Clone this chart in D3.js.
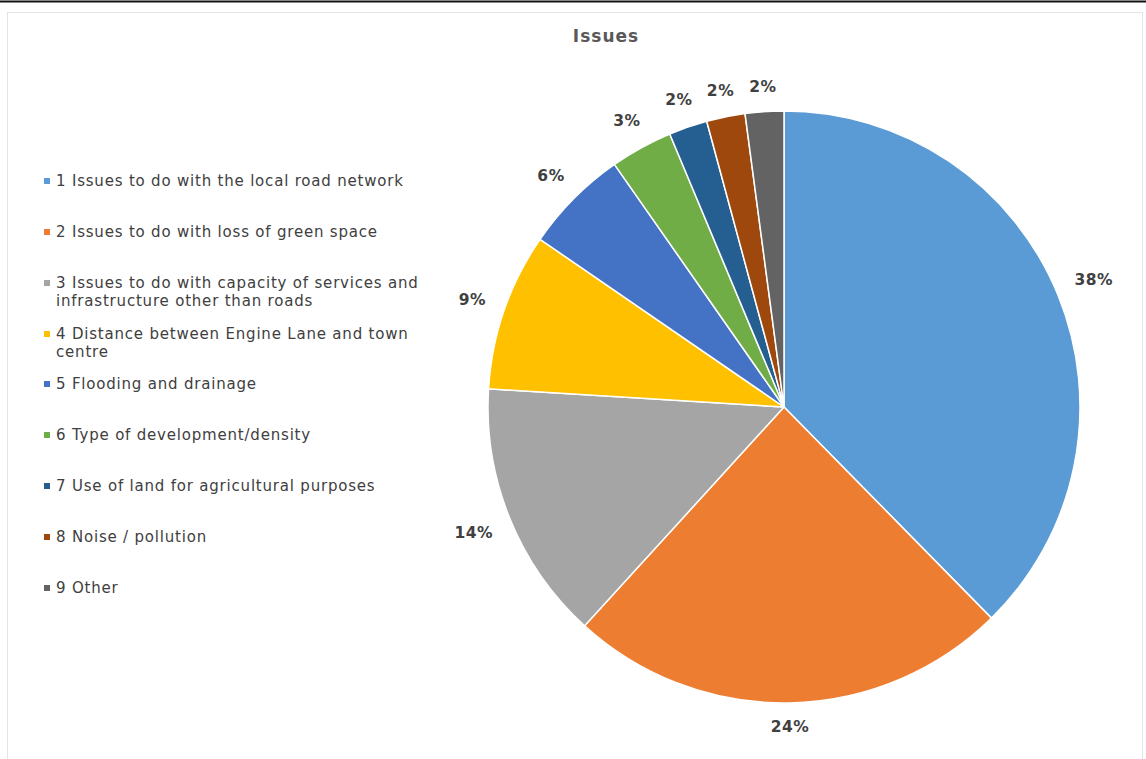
<!DOCTYPE html>
<html>
<head>
<meta charset="utf-8">
<script src="https://cdn.jsdelivr.net/npm/d3@7"></script>
<style>
  html, body { margin: 0; padding: 0; background: #fff; }
  svg { display: block; }
</style>
</head>
<body>
<svg id="chart" width="1146" height="759"></svg>
<script>
const categories = [
  "1 Issues to do with the local road network",
  "2 Issues to do with loss of green space",
  "3 Issues to do with capacity of services and infrastructure other than roads",
  "4 Distance between Engine Lane and town centre",
  "5 Flooding and drainage",
  "6 Type of development/density",
  "7 Use of land for agricultural purposes",
  "8 Noise / pollution",
  "9 Other"
];
const legendLines = [
  ["1 Issues to do with the local road network"],
  ["2 Issues to do with loss of green space"],
  ["3 Issues to do with capacity of services and", "infrastructure other than roads"],
  ["4 Distance between Engine Lane and town", "centre"],
  ["5 Flooding and drainage"],
  ["6 Type of development/density"],
  ["7 Use of land for agricultural purposes"],
  ["8 Noise / pollution"],
  ["9 Other"]
];
const values = [37.6, 24.1, 14.2, 8.6, 5.7, 3.4, 2.1, 2.1, 2.1];
const colors = ["#5B9BD5", "#ED7D31", "#A5A5A5", "#FFC000", "#4472C4", "#70AD47", "#255E91", "#9E480E", "#636363"];
const title = "Issues";

const svg = d3.select("#chart");
const W = 1146, H = 759;

// top dark rule and light frame
svg.append("line").attr("x1", 0).attr("x2", W).attr("y1", 1.5).attr("y2", 1.5)
  .attr("stroke", "#111").attr("stroke-width", 2);
svg.append("rect").attr("x", 7.5).attr("y", 12.5).attr("width", 1135).attr("height", 760)
  .attr("fill", "#fff").attr("stroke", "#e4e4e4").attr("stroke-width", 1);

svg.append("text").attr("x", 606).attr("y", 42).attr("text-anchor", "middle")
  .attr("font-family", "DejaVu Sans").attr("font-weight", "bold").attr("font-size", 17)
  .attr("letter-spacing", 1)
  .attr("fill", "#595959").text(title);

const cx = 784, cy = 407, r = 296;
const total = d3.sum(values);
const pie = d3.pie().sort(null).value(d => d)(values);
const arc = d3.arc().innerRadius(0).outerRadius(r);
const color = d3.scaleOrdinal().domain(categories).range(colors);

const g = svg.append("g").attr("transform", `translate(${cx},${cy})`);
g.selectAll("path").data(pie).join("path")
  .attr("d", arc)
  .attr("fill", (d, i) => color(categories[i]))
  .attr("stroke", "#fff").attr("stroke-width", 1.5).attr("stroke-linejoin", "round");

// outside-end labels
const fmt = v => Math.round(v / total * 100) + "%";
g.selectAll("text.lbl").data(pie).join("text")
  .attr("class", "lbl")
  .attr("font-family", "DejaVu Sans").attr("font-weight", "bold").attr("font-size", 15.5)
  .attr("letter-spacing", 0.5)
  .attr("fill", "#404040").attr("text-anchor", "middle").attr("dominant-baseline", "central")
  .text(d => fmt(d.value))
  .each(function(d) {
    const a = (d.startAngle + d.endAngle) / 2;
    const bb = this.getBBox();
    const s = Math.sin(a), c = -Math.cos(a);
    const dist = r + 19 + (bb.width / 2) * Math.abs(s) + (bb.height / 2 - 4) * Math.abs(c);
    d3.select(this).attr("x", dist * s).attr("y", dist * c);
  });

// legend
const legY = [181, 232, 283, 334, 384, 435, 486, 537, 588];
const leg = svg.append("g");
legendLines.forEach((lines, i) => {
  const y = legY[i];
  leg.append("rect").attr("x", 44).attr("y", y - 3).attr("width", 6).attr("height", 6)
    .attr("fill", color(categories[i]));
  const t = leg.append("text").attr("font-family", "DejaVu Sans").attr("font-size", 15)
    .attr("letter-spacing", 0.8).attr("fill", "#404040");
  lines.forEach((ln, j) => {
    t.append("tspan").attr("x", 56).attr("y", y + 5 + j * 18).text(ln);
  });
});
</script>
</body>
</html>
